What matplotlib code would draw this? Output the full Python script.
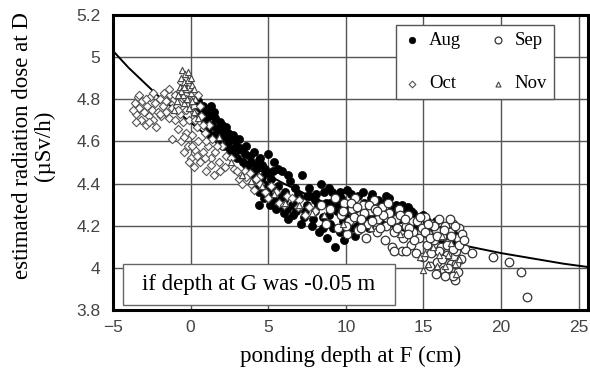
import matplotlib.pyplot as plt
from matplotlib.patches import Rectangle

# fitted curve (if depth at G was -0.05 m)
curve_x = [-5, -4, -3, -2, -1, 0, 1, 2, 3, 4, 5, 6, 8, 10, 12, 14, 16, 18, 20, 22, 24, 26]
curve_y = [5.03, 4.95, 4.88, 4.81, 4.75, 4.69, 4.63, 4.58, 4.53, 4.48, 4.44, 4.40,
           4.33, 4.27, 4.22, 4.17, 4.13, 4.10, 4.07, 4.045, 4.02, 4.0]

aug_x = [0.3, 0.5, 0.6, 0.8, 0.9, 1.0, 1.1, 1.2, 1.3, 1.4, 1.5, 1.6, 1.7, 1.8, 1.9, 2.0,
         2.1, 2.2, 2.3, 2.5, 2.6, 2.7, 2.9, 3.0, 3.1, 3.3, 3.4, 3.6, 3.7, 3.8, 4.0, 4.1,
         4.2, 4.3, 4.4, 4.5, 4.6, 4.7, 4.8, 4.9, 5.0, 5.1, 5.2, 5.3, 5.4, 5.5, 5.6, 5.8,
         5.9, 6.0, 6.1, 6.3, 6.4, 6.5, 6.7, 6.8, 7.0, 7.2, 7.3, 7.5, 7.6, 7.8, 8.0, 8.1,
         8.3, 8.4, 8.5, 8.7, 8.8, 9.0, 9.1, 9.3, 9.4, 9.6, 9.7, 9.9, 10.0, 10.1, 10.3,
         10.4, 10.6, 10.8, 10.9, 11.1, 11.3, 11.5, 11.7, 11.9, 12.1, 12.3, 12.6, 12.9,
         13.2, 13.5, 13.8, 14.0, 14.3, 14.6, 15.0, 15.4, 15.8, 16.2, 16.6, 17.0, 17.2,
         0.7, 1.0, 1.5, 2.0, 2.4, 2.8, 3.2, 3.5, 3.9, 4.2, 4.4, 4.6, 5.0, 5.2, 5.4, 5.6,
         5.7, 5.9, 6.2, 6.3, 6.6, 6.9, 7.1, 7.4, 7.7, 7.9, 8.2, 8.5, 8.6, 8.9, 9.2, 9.5,
         9.8, 10.0, 10.2, 10.5, 10.7, 11.0, 11.2, 11.4, 11.6, 12.0, 12.4, 12.8, 13.0,
         13.6, 14.2, 14.8, 15.2, 15.6, 16.0, 16.4, 16.9, 8.9, 9.6, 10.3, 4.4,
         1.2, 1.8, 2.5, 3.0, 3.6, 4.7, 5.3, 6.0, 6.8, 7.5, 8.0, 9.0, 9.9, 10.8]
aug_y = [4.74, 4.79, 4.72, 4.77, 4.69, 4.74, 4.66, 4.72, 4.77, 4.68, 4.63, 4.71, 4.66,
         4.60, 4.69, 4.64, 4.58, 4.62, 4.67, 4.60, 4.55, 4.63, 4.58, 4.52, 4.61, 4.56,
         4.50, 4.58, 4.47, 4.53, 4.44, 4.55, 4.40, 4.49, 4.36, 4.52, 4.43, 4.33, 4.47,
         4.38, 4.54, 4.30, 4.42, 4.35, 4.50, 4.28, 4.39, 4.32, 4.46, 4.26, 4.36, 4.23,
         4.41, 4.30, 4.38, 4.27, 4.33, 4.44, 4.24, 4.30, 4.38, 4.20, 4.27, 4.35, 4.17,
         4.40, 4.24, 4.31, 4.14, 4.21, 4.36, 4.10, 4.27, 4.17, 4.33, 4.13, 4.24, 4.37,
         4.19, 4.30, 4.15, 4.34, 4.22, 4.36, 4.27, 4.19, 4.35, 4.25, 4.32, 4.21, 4.34,
         4.26, 4.30, 4.23, 4.28, 4.29, 4.26, 4.20, 4.25, 4.18, 4.22, 4.13, 4.20, 4.09,
         4.17,
         4.75, 4.70, 4.74, 4.68, 4.64, 4.61, 4.57, 4.54, 4.50, 4.47, 4.51, 4.49, 4.45,
         4.37, 4.32, 4.47, 4.29, 4.34, 4.28, 4.44, 4.25, 4.35, 4.21, 4.27, 4.34, 4.23,
         4.30, 4.19, 4.36, 4.25, 4.19, 4.30, 4.22, 4.16, 4.28, 4.25, 4.20, 4.29, 4.31,
         4.23, 4.33, 4.28, 4.31, 4.33, 4.29, 4.30, 4.27, 4.24, 4.22, 4.19, 4.18, 4.16,
         4.12, 4.38, 4.36, 4.35, 4.30,
         4.63, 4.65, 4.57, 4.56, 4.49, 4.40, 4.46, 4.32, 4.31, 4.34, 4.32, 4.31, 4.29,
         4.27]

sep_x = [8.4, 8.7, 9.0, 9.3, 9.5, 9.7, 9.9, 10.1, 10.2, 10.4, 10.6, 10.8, 10.9, 11.1,
         11.3, 11.4, 11.6, 11.8, 12.0, 12.1, 12.3, 12.5, 12.6, 12.8, 13.0, 13.1, 13.2,
         13.4, 13.6, 13.7, 13.9, 14.0, 14.2, 14.3, 14.5, 14.6, 14.7, 14.9, 15.0, 15.1,
         15.2, 15.3, 15.4, 15.5, 15.6, 15.7, 15.8, 15.9, 16.0, 16.1, 16.2, 16.3, 16.4,
         16.5, 16.6, 16.7, 16.8, 16.9, 17.0, 17.1, 17.2, 17.3, 17.4, 17.7, 18.1, 13.1,
         13.9, 19.5, 20.5, 21.3, 21.7, 17.2, 16.9,
         9.8, 10.0, 10.3, 10.5, 10.7, 11.0, 11.2, 11.5, 11.7, 11.9, 12.2, 12.4, 12.7,
         12.9, 13.3, 13.5, 13.8, 14.1, 14.4, 14.8, 15.1, 15.4, 15.5, 15.7, 15.9, 16.0,
         16.2, 16.3, 16.5, 16.6, 16.8, 16.9, 17.0, 17.1, 17.3, 17.5, 17.6, 16.4, 15.8,
         16.7, 15.3, 14.0, 12.0, 11.0]
sep_y = [4.30, 4.21, 4.28, 4.33, 4.19, 4.25, 4.31, 4.16, 4.22, 4.28, 4.33, 4.18, 4.25,
         4.30, 4.14, 4.21, 4.27, 4.32, 4.17, 4.23, 4.29, 4.13, 4.20, 4.26, 4.10, 4.17,
         4.23, 4.28, 4.08, 4.14, 4.20, 4.25, 4.11, 4.17, 4.07, 4.22, 4.14, 4.19, 4.05,
         4.24, 4.11, 4.16, 4.01, 4.21, 4.08, 4.13, 4.18, 4.03, 4.23, 4.10, 4.15, 3.99,
         4.20, 4.06, 4.12, 4.17, 4.02, 4.21, 3.94, 4.08, 4.14, 4.19, 4.04, 4.09, 4.07,
         4.08, 4.08, 4.05, 4.03, 3.98, 3.86, 3.98, 3.96,
         4.27, 4.20, 4.31, 4.24, 4.29, 4.19, 4.26, 4.30, 4.22, 4.28, 4.19, 4.25, 4.31,
         4.22, 4.19, 4.25, 4.23, 4.19, 4.13, 4.24, 4.17, 4.14, 4.07, 4.20, 4.15, 4.08,
         4.04, 4.18, 4.11, 4.00, 4.15, 4.09, 4.20, 4.02, 4.11, 4.16, 4.13, 3.96, 3.97,
         4.23, 4.21, 4.16, 4.27, 4.23]

oct_x = [-3.6, -3.5, -3.4, -3.3, -3.2, -3.1, -3.0, -2.9, -2.8, -2.7, -2.6, -2.5, -2.4,
         -2.3, -2.2, -2.1, -2.0, -1.9, -1.8, -1.7, -1.6, -1.5, -1.4, -1.3, -1.2, -1.2,
         -1.1, -1.0, -0.9, -0.8, -0.7, -0.7, -0.6, -0.5, -0.5, -0.4, -0.3, -0.3, -0.2,
         -0.2, -0.1, 0.0, 0.0, 0.1, 0.2, 0.2, 0.3, 0.4, 0.5, 0.5, 0.6, 0.7, 0.8, 0.9,
         1.0, 1.1, 1.2, 1.3, 1.4, 1.5, 1.6, 1.8, 2.0, 2.3, 2.8, 3.1, 3.5, 3.9, 4.4, 4.8,
         5.2, 5.7, 6.2, 6.9, 7.4,
         2.2, 2.6, 3.0, 3.3, 3.6, 4.1, 4.5, 5.0, 5.5, 6.0, 6.5, 7.0, 7.6, 8.0, 3.8, 4.2,
         -3.7, -3.5, -3.3, -2.9, -2.7, -2.4, -2.0, -1.6, -1.4, -1.0, -0.8, -0.6, -0.4,
         -0.1, 0.3, 0.6, 0.8, 1.0, 1.3, 1.7, 1.9, 0.4, 0.1, -0.3, 0.9]
oct_y = [4.78, 4.73, 4.81, 4.76, 4.70, 4.79, 4.74, 4.68, 4.77, 4.72, 4.81, 4.75, 4.70,
         4.78, 4.67, 4.74, 4.80, 4.72, 4.77, 4.83, 4.74, 4.79, 4.71, 4.82, 4.61, 4.76,
         4.80, 4.70, 4.77, 4.66, 4.84, 4.73, 4.60, 4.80, 4.69, 4.55, 4.75, 4.64, 4.85,
         4.58, 4.70, 4.52, 4.79, 4.63, 4.74, 4.48, 4.56, 4.67, 4.82, 4.60, 4.50, 4.72,
         4.55, 4.64, 4.46, 4.58, 4.68, 4.52, 4.61, 4.44, 4.55, 4.50, 4.58, 4.53, 4.47,
         4.42, 4.46, 4.40, 4.43, 4.36, 4.39, 4.31, 4.34, 4.29, 4.25,
         4.48, 4.52, 4.46, 4.40, 4.43, 4.37, 4.40, 4.33, 4.36, 4.30, 4.33, 4.32, 4.29,
         4.27, 4.45, 4.42,
         4.75, 4.69, 4.82, 4.80, 4.69, 4.83, 4.73, 4.79, 4.85, 4.82, 4.75, 4.88, 4.62,
         4.50, 4.70, 4.77, 4.68, 4.60, 4.49, 4.58, 4.46, 4.53, 4.58, 4.80, 4.52]

nov_x = [-0.7, -0.6, -0.55, -0.5, -0.45, -0.4, -0.35, -0.3, -0.25, -0.2, -0.1, 0.0, 0.1,
         0.2, 0.3, -0.9, -1.1, 0.5, 1.8, 3.3, 4.6, 6.1, 7.8, 9.8, 11.6, 13.5, 14.8, 15.0,
         15.3, 15.6, 16.0, 16.4, 16.8, 17.1, 17.3, 16.2,
         -0.6, -0.4, -0.2, 0.0, 0.2, -0.8, 0.1, 15.1, 15.9, 16.6, 17.0, 3.9, 5.4, 7.0,
         8.6, 2.6]
nov_y = [4.86, 4.90, 4.94, 4.82, 4.88, 4.78, 4.92, 4.85, 4.80, 4.89, 4.76, 4.83, 4.87,
         4.74, 4.80, 4.79, 4.75, 4.71, 4.62, 4.44, 4.39, 4.31, 4.26, 4.21, 4.19, 4.16,
         4.05, 3.99, 4.02, 4.10, 4.06, 4.01, 4.12, 3.97, 4.04, 4.15,
         4.84, 4.86, 4.93, 4.90, 4.85, 4.82, 4.79, 4.07, 4.01, 4.06, 4.02, 4.41, 4.35,
         4.30, 4.25, 4.50]

serif = ['Liberation Serif', 'DejaVu Serif']
sans = ['Liberation Sans', 'DejaVu Sans']

fig = plt.figure(figsize=(5.9, 3.72), dpi=100)
ax = fig.add_axes([113 / 590, 62 / 372, 475 / 590, 295 / 372])

h_aug = ax.scatter(aug_x, aug_y, s=34, c='black', edgecolors='black', linewidths=0.5,
                   label='Aug', zorder=3)
h_sep = ax.scatter(sep_x, sep_y, s=38, facecolors='white', edgecolors='#333333',
                   linewidths=0.9, label='Sep', zorder=3)
h_oct = ax.scatter(oct_x, oct_y, s=18, marker='D', facecolors='white',
                   edgecolors='#555555', linewidths=0.8, label='Oct', zorder=3)
h_nov = ax.scatter(nov_x, nov_y, s=20, marker='^', facecolors='white',
                   edgecolors='#444444', linewidths=0.8, label='Nov', zorder=3)
ax.plot(curve_x, curve_y, color='black', lw=1.4, zorder=2)

ax.set_xlim(-5, 25.6)
ax.set_ylim(3.8, 5.2)
ax.set_xticks([-5, 0, 5, 10, 15, 20, 25])
ax.set_xticklabels(['\u22125', '0', '5', '10', '15', '20', '25'])
ax.set_yticks([3.8, 4.0, 4.2, 4.4, 4.6, 4.8, 5.0, 5.2])
ax.set_yticklabels(['3.8', '4', '4.2', '4.4', '4.6', '4.8', '5', '5.2'])
ax.grid(True, color='#555555', lw=1.0)
ax.set_axisbelow(True)
ax.tick_params(length=0, labelsize=12.5, labelcolor='#444444')
ax.tick_params(axis='y', pad=9)
ax.tick_params(axis='x', pad=7)
for lab in ax.get_xticklabels() + ax.get_yticklabels():
    lab.set_family(sans)
for sp in ax.spines.values():
    sp.set_linewidth(2.2)

ax.set_xlabel('ponding depth at F (cm)', family=serif, fontsize=16.5, labelpad=8)
ax.set_ylabel('estimated radiation dose at D\n(\u00b5Sv/h)', family=serif,
              fontsize=16.5, linespacing=1.05)
ax.yaxis.set_label_coords(-0.122, 0.556)

leg = ax.legend([h_aug, h_oct, h_sep, h_nov], ['Aug', 'Oct', 'Sep', 'Nov'], ncol=2,
                loc='upper left', bbox_to_anchor=(274 / 475, 294 / 295),
                prop={'family': serif, 'size': 13.5}, frameon=True, fancybox=False,
                edgecolor='#555555', framealpha=1, handlelength=1.0,
                handletextpad=0.4, columnspacing=1.45, labelspacing=1.4,
                borderpad=0.35, markerscale=0.8)
leg.get_frame().set_linewidth(1.0)

ax.add_patch(Rectangle((10 / 475, 5 / 295), 272 / 475, 41 / 295, transform=ax.transAxes,
                       facecolor='white', edgecolor='#666666', lw=1, zorder=5))
ax.text(0.307, 0.0864, 'if depth at G was -0.05 m', transform=ax.transAxes,
        ha='center', va='center', family=serif, fontsize=16.5, zorder=6)

fig.savefig('out.png', dpi=100)
